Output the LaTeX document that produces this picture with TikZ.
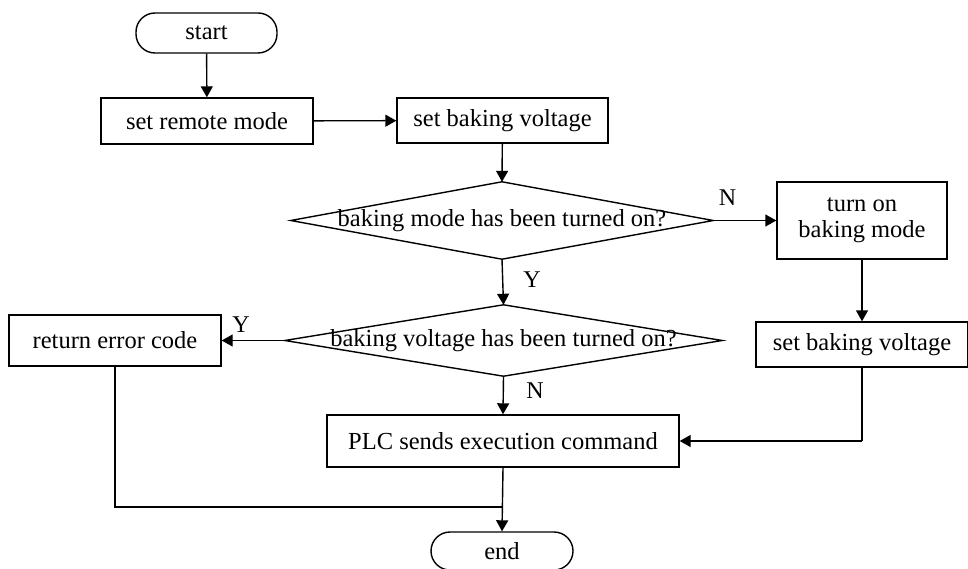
\documentclass[tikz,border=0pt]{standalone}
\usepackage{fontspec}
\setmainfont{Liberation Serif}
\usetikzlibrary{arrows.meta}
\begin{document}
\begin{tikzpicture}[x=1pt,y=-1pt,
  every node/.style={font=\fontsize{24.5}{28}\selectfont, inner sep=0pt, align=center},
  box/.style={draw, line width=1.4pt, minimum width=#1},
  pill/.style={draw, line width=1.4pt, rounded corners=19pt},
  dia/.style={minimum width=#1},
  conn/.style={line width=1.4pt, -{Triangle[length=11pt,width=12pt]}},
  plain/.style={line width=1.4pt},
  lab/.style={font=\fontsize{24}{28}\selectfont}]
\useasboundingbox (0,0) rectangle (968,569);
\node[pill, minimum width=141, minimum height=40] (start) at (206.5,33) {start};
\node[box=212, minimum height=46] (remote) at (207,121) {set remote mode};
\node[box=211, minimum height=45] (volt1) at (502.5,120.5) {set baking voltage};
\node[dia=422, minimum height=77] (d1) at (502,220.5) {baking mode has been turned on?};
\draw[plain] (d1.west) -- (d1.north) -- (d1.east) -- (d1.south) -- cycle;
\node[box=170, minimum height=77] (turnon) at (862,220.5) {turn on\\[-2pt]baking mode};
\node[box=212, minimum height=45] (volt2) at (862,344.5) {set baking voltage};
\node[dia=437, minimum height=71] (d2) at (503.5,340.5) {baking voltage has been turned on?};
\draw[plain] (d2.west) -- (d2.north) -- (d2.east) -- (d2.south) -- cycle;
\node[box=212, minimum height=51] (err) at (115,340.5) {return error code};
\node[box=352, minimum height=52] (plc) at (503,441) {PLC sends execution command};
\node[pill, minimum width=142, minimum height=38] (end) at (502,551) {end};
\coordinate (j1) at (862,441);
\coordinate (j2) at (115,507);
\coordinate (j3) at (503,507);
\draw[conn] (start) -- (remote);
\draw[conn] (remote) -- (volt1);
\draw[conn] (volt1) -- (d1.north);
\draw[conn] (d1.east) -- (turnon.west);
\draw[conn] (turnon) -- (volt2);
\draw[conn] (d1.south) -- (d2.north);
\draw[conn] (d2.west) -- (err.east);
\draw[conn] (d2.south) -- (plc.north);
\draw[plain] (volt2.south) -- (j1);
\draw[conn] (j1) -- (plc.east);
\draw[plain] (err.south) -- (j2) -- (j3);
\draw[conn] (plc.south) -- (end.north);
\node[lab] (nA) at (727.5,198) {N};
\node[lab] (yA) at (532,280) {Y};
\node[lab] (yB) at (241,325) {Y};
\node[lab] (nB) at (535,391) {N};
\end{tikzpicture}
\end{document}
